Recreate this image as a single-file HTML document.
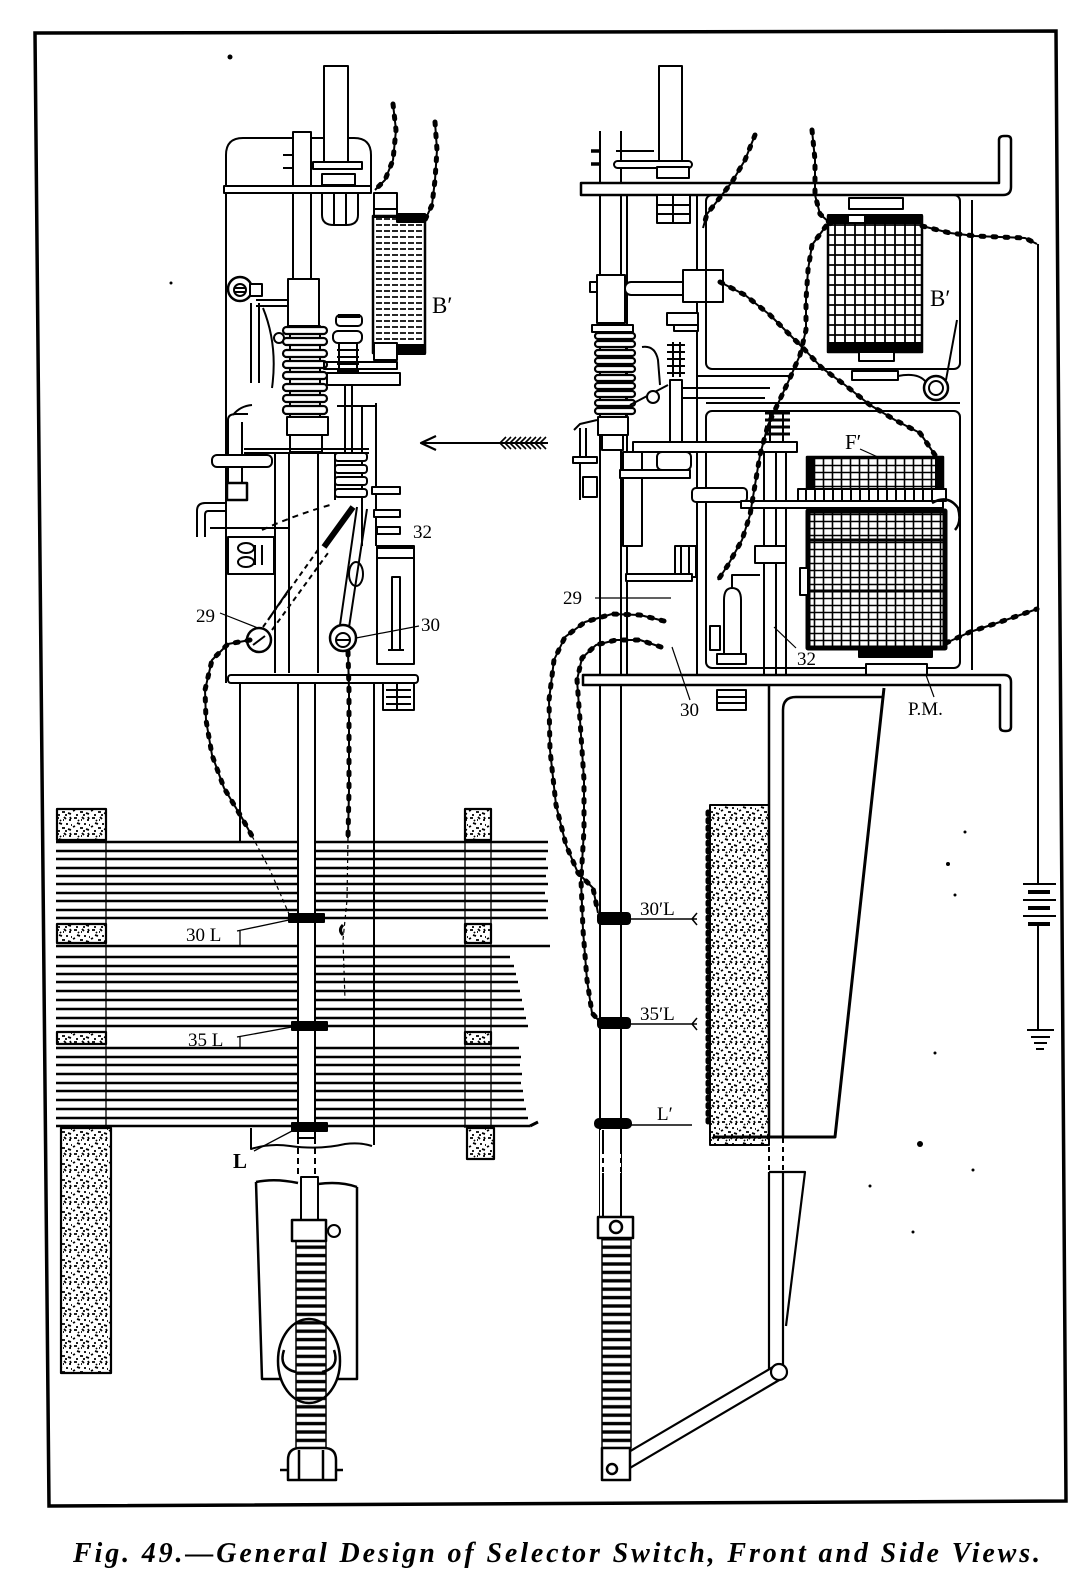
<!DOCTYPE html>
<html><head><meta charset="utf-8"><style>
html,body{margin:0;padding:0;background:#fff;}
svg{display:block;}
.t{font-family:"Liberation Serif",serif;fill:#000;stroke:none;}
</style></head><body>
<svg width="1092" height="1580" viewBox="0 0 1092 1580" xmlns="http://www.w3.org/2000/svg">
<defs>
 <pattern id="stip" width="18" height="16" patternUnits="userSpaceOnUse">
  <path d="M2 2h3M10 1l2 2M15 4h2M5 7l3 1M12 8h2M1 11l2-1M8 12h3M14 13l3 1M9 4h1M17 9h1M4 15h2M16 1l1 2M6 4l1 1M11 15h2" stroke="#000" stroke-width="1.8" fill="none"/>
 </pattern>
 <pattern id="grid" width="10" height="10" patternUnits="userSpaceOnUse">
  <path d="M0 5H10M5 0V10" stroke="#000" stroke-width="1.8"/>
 </pattern>
 <pattern id="grid2" width="9" height="7" patternUnits="userSpaceOnUse">
  <path d="M0 3.5H9M4.5 0V7" stroke="#000" stroke-width="1.6"/>
 </pattern>
 <pattern id="hatch" width="8" height="6" patternUnits="userSpaceOnUse">
  <path d="M0 3H6" stroke="#000" stroke-width="1.7"/>
 </pattern>
 <pattern id="spr" width="10" height="8.4" patternUnits="userSpaceOnUse">
  <path d="M0 4H10" stroke="#000" stroke-width="3.4"/>
 </pattern>
 <path id="wL1" d="M435 122 L437 150 L435 180 L432 205 L425 220"/>
 <path id="wL2" d="M393 104 L396 130 L393 160 L385 180 L375 190"/>
 <path id="wL3" d="M250 640 L228 644 L212 660 L205 690 L206 720 L212 755 L224 788 L242 818 L252 836"/>
 <path id="wL4" d="M348 652 L349 690 L349 740 L349 790 L348 838"/>
 <path id="w1" d="M755 135 L745 160 L732 182 L718 200 L707 214 L703 228"/>
 <path id="w2" d="M812 130 L815 160 L815 195 L820 214 L832 225"/>
 <path id="w3" d="M922 226 L950 233 L975 236 L1000 237 L1025 238 L1037 244"/>
 <path id="w4" d="M720 282 L745 295 L770 315 L790 335 L805 350 L822 368 L845 385 L870 405 L895 420 L920 433 L935 455"/>
 <path id="w5" d="M826 226 L812 245 L808 270 L806 300 L806 330 L800 355 L790 378 L782 395"/>
 <path id="w6" d="M782 395 L768 425 L760 455 L755 485 L750 515 L742 540 L728 565 L718 580"/>
 <path id="w7" d="M946 643 L970 632 L1000 622 L1020 615 L1037 609"/>
 <path id="w8" d="M664 621 L640 615 L612 614 L585 622 L565 637 L554 660 L549 700 L550 750 L556 805 L566 845 L578 873 L593 888 L598 913"/>
 <path id="w9" d="M661 647 L640 640 L616 640 L596 645 L582 658 L577 680 L580 720 L584 780 L584 830 L581 880 L583 930 L587 980 L592 1013 L600 1022"/>
</defs>
<rect width="1092" height="1580" fill="#fff"/>

<path d="M35 33 L1056 31 L1066 1501 L49 1506 Z" fill="none" stroke="#000" stroke-width="3.5"/>
<circle cx="230" cy="57" r="2.5" fill="#000"/>

<g fill="none" stroke="#000" stroke-width="2" stroke-linejoin="round">

<!-- LEFT VIEW -->
<path d="M226 683 V155 Q226 138 243 138 H354 Q371 138 371 155 V186"/>
<rect x="324" y="66" width="24" height="98" fill="#fff"/>
<rect x="293" y="132" width="18" height="147" fill="#fff"/>
<path d="M283 155h10M283 168h10"/>
<rect x="313" y="162" width="49" height="7" fill="#fff"/>
<rect x="322" y="174" width="33" height="11" fill="#fff"/>
<rect x="224" y="186" width="147" height="7" fill="#fff"/>
<path d="M322 193 v22 q0 10 12 10 h12 q12 0 12 -10 v-22 M334 193v32 M346 193v32"/>
<rect x="374" y="193" width="23" height="16" fill="#fff"/>
<rect x="374" y="209" width="23" height="8" fill="#fff"/>
<rect x="373" y="216" width="52" height="137" fill="url(#hatch)" stroke-width="2.5"/>
<rect x="397" y="214" width="28" height="8" fill="#000"/>
<rect x="397" y="345" width="28" height="9" fill="#000"/>
<rect x="374" y="343" width="23" height="17" fill="#fff"/>
<circle cx="240" cy="289" r="12" fill="#fff" stroke-width="2.5"/>
<circle cx="240" cy="290" r="6"/>
<path d="M235 288h10M235 292h10"/>
<rect x="250" y="284" width="12" height="12" fill="#fff"/>
<path d="M256 300 H288 M256 306 H288"/>
<path d="M251 303 V383 M259 303 V383"/>
<path d="M263 308 Q278 345 272 388"/>
<circle cx="279" cy="338" r="5" fill="#fff"/>
<rect x="288" y="279" width="31" height="47" fill="#fff"/>
<rect x="290" y="326" width="30" height="92" fill="#fff"/>
<g fill="#fff" stroke-width="2.2">
<rect x="283" y="327" width="44" height="7" rx="3.5"/>
<rect x="283" y="338" width="44" height="7" rx="3.5"/>
<rect x="283" y="350" width="44" height="7" rx="3.5"/>
<rect x="283" y="361" width="44" height="7" rx="3.5"/>
<rect x="283" y="372" width="44" height="7" rx="3.5"/>
<rect x="283" y="384" width="44" height="7" rx="3.5"/>
<rect x="283" y="395" width="44" height="7" rx="3.5"/>
<rect x="283" y="406" width="44" height="8" rx="3.5"/>
</g>
<rect x="287" y="417" width="41" height="18" fill="#fff"/>
<rect x="290" y="435" width="32" height="17" fill="#fff"/>
<rect x="336" y="315" width="26" height="11" rx="4" fill="#fff"/>
<path d="M338 316 h22" stroke-width="4"/>
<rect x="333" y="331" width="29" height="12" rx="5" fill="#fff"/>
<rect x="339" y="343" width="18" height="40" fill="#fff"/>
<path d="M337 350h22M337 357h22M337 364h22M337 371h22M337 378h22"/>
<path d="M345 383 V453 M352 383 V453"/>
<rect x="324" y="362" width="73" height="7"/>
<rect x="327" y="373" width="73" height="12" fill="#fff"/>
<path d="M362 406 V546 M376 403 V546 M337 406 H376"/>
<path d="M233 415 Q240 406 252 405 M228 483 V420 Q228 414 236 414 H248 M242 483 V422"/>
<rect x="212" y="455" width="60" height="12" rx="5" fill="#fff"/>
<rect x="227" y="483" width="20" height="17" fill="#fff" stroke-width="2.5"/>
<path d="M227 503 H205 Q197 503 197 511 V537 M227 511 H208 Q205 511 205 515 V537"/>
<path d="M210 528 H290"/>
<path d="M244 449 H369 M244 453 H369"/>
<path d="M275 453 V673 M289 453 V673 M318 453 V673 M335 453 V500"/>
<g fill="#fff">
<rect x="335" y="453" width="32" height="8" rx="3"/>
<rect x="335" y="465" width="32" height="8" rx="3"/>
<rect x="335" y="477" width="32" height="8" rx="3"/>
<rect x="335" y="489" width="32" height="8" rx="3"/>
<rect x="372" y="487" width="28" height="7"/>
<rect x="374" y="510" width="26" height="7"/>
<rect x="377" y="527" width="23" height="7"/>
</g>
<rect x="228" y="537" width="46" height="37" fill="#fff"/>
<ellipse cx="246" cy="548" rx="8" ry="5"/>
<ellipse cx="246" cy="562" rx="8" ry="5"/>
<path d="M255 545v20M262 545v20"/>
<path d="M263 627 L320 547 M272 630 L328 553" stroke-dasharray="5 4"/>
<path d="M268 620 L290 588"/>
<path d="M324 547 L353 507" stroke-width="6"/>
<path d="M339 632 L357 507 M348 634 L367 509"/>
<path d="M262 530 Q295 515 330 505" stroke-dasharray="6 5"/>
<ellipse cx="356" cy="574" rx="7" ry="12"/>
<rect x="377" y="546" width="37" height="118" fill="#fff"/>
<rect x="377" y="548" width="37" height="10"/>
<rect x="392" y="577" width="8" height="73"/>
<path d="M388 650 H404"/>
<circle cx="259" cy="640" r="12" fill="#fff" stroke-width="2.5"/>
<path d="M253 645 L265 636"/>
<circle cx="343" cy="638" r="13" fill="#fff" stroke-width="2.5"/>
<circle cx="343" cy="640" r="7"/>
<path d="M337 640h12"/>
<rect x="228" y="675" width="190" height="8" rx="3" fill="#fff"/>
<rect x="383" y="683" width="31" height="27" fill="#fff"/>
<path d="M386 690h25M386 697h25M386 704h25M397 683v27"/>
<path d="M240 683 V842 M374 683 V1145"/>
<path d="M251 1128 V1149 Q270 1143 290 1146 Q320 1150 345 1144 Q360 1142 372 1146"/>

<text class="t" x="432" y="313" font-size="23">B′</text>
<text class="t" x="413" y="538" font-size="19">32</text>
<text class="t" x="196" y="622" font-size="19">29</text>
<text class="t" x="421" y="631" font-size="19">30</text>
<path d="M220 613 L258 628 M419 626 L356 638" stroke-width="1.2"/>

<path d="M421 443 H548" stroke-width="2"/>
<path d="M436 436 L421 443 L436 450" stroke-width="2.2"/>
<path d="M506 437 L500 443 L506 449 M511 437 L505 443 L511 449 M516 437 L510 443 L516 449 M521 437 L515 443 L521 449 M526 437 L520 443 L526 449 M531 437 L525 443 L531 449 M536 437 L530 443 L536 449 M541 437 L535 443 L541 449 M546 437 L540 443 L546 449" stroke-width="1.6"/>

<!-- BANK -->
<g stroke-width="2.5">
<path d="M56 842H548M56 851H548M56 859H546M56 868H548M56 876H546M56 884H548M56 893H545M56 901H548M56 910H546M56 918H548"/>
<path d="M56 946H550M56 957H510M56 966H514M56 974H516M56 982H518M56 991H520M56 1000H522M56 1009H524M56 1018H526M56 1026H528"/>
<path d="M56 1048H519M56 1057H521M56 1065H520M56 1074H522M56 1083H521M56 1091H523M56 1100H524M56 1109H526M56 1118H528M56 1126H530"/>
</g>
<path d="M530 1126 l8 -4" stroke-width="3"/>
<g fill="url(#stip)" stroke-width="2.2">
<rect x="57" y="809" width="49" height="31"/>
<rect x="57" y="924" width="49" height="19"/>
<rect x="57" y="1032" width="49" height="12"/>
<rect x="61" y="1128" width="50" height="245"/>
<rect x="465" y="809" width="26" height="31"/>
<rect x="465" y="924" width="26" height="19"/>
<rect x="465" y="1032" width="26" height="12"/>
<rect x="467" y="1128" width="27" height="31"/>
</g>
<path d="M106 840 V1128 M465 840 V1128 M491 840 V1128" stroke-width="1.3"/>
<rect x="298" y="683" width="17" height="455" fill="#fff"/>
<path d="M298 1138 V1177 M315 1138 V1177" stroke-dasharray="6 4"/>
<rect x="289" y="914" width="35" height="8" fill="#000"/>
<rect x="292" y="1022" width="35" height="8" fill="#000"/>
<rect x="292" y="1123" width="35" height="8" fill="#000"/>
<path d="M237 931 L289 920 M237 1037 L292 1027 M254 1151 L292 1131 M240 931 V946 M240 1037 V1048" stroke-width="1.3"/>
<text class="t" x="186" y="941" font-size="19">30 L</text>
<text class="t" x="188" y="1046" font-size="19">35 L</text>
<text class="t" x="233" y="1168" font-size="21" font-weight="bold">L</text>

<use href="#wL1"/><use href="#wL2"/><use href="#wL3"/><use href="#wL4"/>
<g stroke-width="5" stroke-dasharray="3 9" stroke-linecap="round">
<use href="#wL1"/><use href="#wL2"/><use href="#wL3"/><use href="#wL4"/>
</g>
<path d="M252 836 L270 870 L289 914" stroke-width="1.2" stroke-dasharray="4 3"/>
<path d="M348 838 L347 900 L343 940 L345 1000" stroke-width="1.2" stroke-dasharray="4 3"/>
<path d="M343 925 q-5 5 0 10" stroke-width="3"/>

<path d="M256 1182 Q275 1178 298 1183 M318 1184 Q340 1181 357 1187 M256 1182 L262 1379 H282 M357 1187 V1379 H338" stroke-width="2.5"/>
<rect x="301" y="1177" width="17" height="45" fill="#fff"/>
<rect x="292" y="1220" width="34" height="21" fill="#fff" stroke-width="2.5"/>
<circle cx="334" cy="1231" r="6" fill="#fff"/>
<ellipse cx="309" cy="1361" rx="31" ry="42" fill="#fff" stroke-width="2.5"/>
<path d="M284 1350 Q278 1368 296 1372 M334 1350 Q340 1368 322 1372" stroke-width="2.5"/>
<rect x="296" y="1241" width="30" height="207" fill="url(#spr)" stroke-width="1.5"/>
<path d="M288 1480 V1460 Q288 1448 300 1448 H324 Q336 1448 336 1460 V1480 Z M280 1470 H288 M336 1470 H343 M299 1450 V1480 M323 1450 V1480" fill="#fff" stroke-width="2.5"/>

<!-- RIGHT VIEW -->
<rect x="659" y="66" width="23" height="98" fill="#fff"/>
<path d="M600 131 V1217 M621 131 V1217"/>
<path d="M627 195 V675"/>
<path d="M591 151h9M591 164h9" stroke-width="3.5"/>
<path d="M616 151 H654"/>
<rect x="614" y="161" width="78" height="7" rx="3.5" fill="#fff"/>
<rect x="657" y="167" width="32" height="11" fill="#fff"/>
<path d="M581 183 H999 V140 Q999 136 1004 136 H1007 Q1011 136 1011 140 V187 Q1011 195 1003 195 H581 Z" fill="#fff" stroke-width="2.5"/>
<rect x="657" y="195" width="33" height="28" fill="#fff"/>
<path d="M657 205h33M657 214h33M673 195v28"/>
<path d="M697 195 V675 M972 200 V670"/>
<rect x="706" y="195" width="254" height="174" rx="6"/>
<rect x="706" y="411" width="254" height="257" rx="6"/>
<path d="M698 376 H790 M680 388 H770 M680 398 H765 M706 403 H960"/>
<rect x="849" y="198" width="54" height="11" fill="#fff"/>
<rect x="828" y="216" width="94" height="136" fill="url(#grid)" stroke-width="2.5"/>
<rect x="828" y="215" width="94" height="8" fill="#000"/>
<rect x="828" y="343" width="94" height="9" fill="#000"/>
<rect x="849" y="216" width="15" height="6" fill="#fff" stroke="none"/>
<rect x="859" y="352" width="35" height="9" fill="#fff"/>
<rect x="852" y="371" width="46" height="9" fill="#fff"/>
<circle cx="936" cy="388" r="12" fill="#fff" stroke-width="2.5"/>
<circle cx="936" cy="388" r="7"/>
<path d="M898 376 Q918 372 926 382 M957 320 L946 380"/>
<text class="t" x="930" y="306" font-size="23">B′</text>
<rect x="597" y="275" width="28" height="48" fill="#fff"/>
<rect x="590" y="282" width="7" height="10" fill="#fff"/>
<rect x="625" y="282" width="68" height="13" rx="6" fill="#fff"/>
<rect x="683" y="270" width="40" height="32" fill="#fff"/>
<path d="M706 270v32"/>
<rect x="592" y="325" width="41" height="7" fill="#fff"/>
<rect x="600" y="332" width="26" height="85" fill="#fff"/>
<g fill="#fff" stroke-width="2.2">
<rect x="595" y="333" width="40" height="6" rx="3"/>
<rect x="595" y="341" width="40" height="6" rx="3"/>
<rect x="595" y="350" width="40" height="6" rx="3"/>
<rect x="595" y="358" width="40" height="6" rx="3"/>
<rect x="595" y="366" width="40" height="6" rx="3"/>
<rect x="595" y="375" width="40" height="6" rx="3"/>
<rect x="595" y="383" width="40" height="6" rx="3"/>
<rect x="595" y="391" width="40" height="6" rx="3"/>
<rect x="595" y="400" width="40" height="6" rx="3"/>
<rect x="595" y="408" width="40" height="6" rx="3"/>
</g>
<rect x="598" y="417" width="30" height="18" fill="#fff"/>
<rect x="602" y="435" width="21" height="15" fill="#fff"/>
<path d="M597 420 L580 424 L574 430 M580 428 V500 M586 428 V457"/>
<rect x="573" y="457" width="24" height="6" fill="#fff"/>
<rect x="583" y="477" width="14" height="20" fill="#fff"/>
<path d="M642 347 Q655 345 658 360 L660 385 M630 405 L668 385"/>
<circle cx="653" cy="397" r="6" fill="#fff"/>
<rect x="670" y="380" width="12" height="67" fill="#fff"/>
<rect x="667" y="313" width="31" height="12" fill="#fff"/>
<rect x="674" y="325" width="24" height="6" fill="#fff"/>
<path d="M667 345h18M667 352h18M667 359h18M667 366h18M667 373h18 M673 342v35M680 342v35"/>
<rect x="633" y="442" width="164" height="10" fill="#fff"/>
<path d="M765 413h25M765 420h25M765 427h25M765 434h25" stroke-width="3"/>
<path d="M770 413 V442 M783 413 V442"/>
<rect x="623" y="452" width="19" height="94" fill="#fff"/>
<rect x="620" y="470" width="70" height="8" fill="#fff"/>
<rect x="657" y="452" width="34" height="18" rx="5" fill="#fff"/>
<rect x="692" y="488" width="55" height="14" rx="4" fill="#fff"/>
<path d="M764 452 V675 M776 452 V675 M786 452 V675"/>
<rect x="755" y="546" width="31" height="17" fill="#fff"/>
<rect x="675" y="546" width="21" height="31" fill="#fff"/>
<path d="M681 546v31M689 546v31"/>
<rect x="626" y="574" width="66" height="7" fill="#fff"/>
<path d="M724 655 V600 Q724 588 732 588 Q741 588 741 600 V655 M732 588 V575 H760"/>
<rect x="717" y="654" width="29" height="10" fill="#fff"/>
<rect x="710" y="626" width="10" height="24"/>
<rect x="807" y="457" width="136" height="33" fill="url(#grid2)" stroke-width="2.5"/>
<rect x="807" y="457" width="7" height="33" fill="#000"/>
<rect x="936" y="457" width="7" height="33" fill="#000"/>
<rect x="798" y="489" width="148" height="12" fill="#fff"/>
<path d="M806 489v12M815 489v12M824 489v12M833 489v12M842 489v12M851 489v12M860 489v12M869 489v12M878 489v12M887 489v12M896 489v12M905 489v12M914 489v12M923 489v12M932 489v12"/>
<rect x="741" y="501" width="202" height="7" fill="#fff"/>
<rect x="808" y="511" width="137" height="137" fill="url(#grid2)" stroke-width="5"/>
<path d="M808 540 H945 M808 591 H945" stroke-width="3"/>
<rect x="800" y="568" width="8" height="27" fill="#fff"/>
<rect x="859" y="647" width="73" height="10" fill="#000"/>
<rect x="866" y="664" width="61" height="11" fill="#fff"/>
<path d="M932 503 Q948 494 958 508 Q962 522 955 530" stroke-width="2.5"/>
<text class="t" x="845" y="449" font-size="21">F′</text>
<path d="M860 449 L880 458" stroke-width="1.2"/>
<path d="M583 675 H1004 Q1011 675 1011 682 V727 Q1011 731 1006 731 H1005 Q1000 731 1000 727 V685 H583 Z" fill="#fff" stroke-width="2.5"/>
<rect x="717" y="690" width="29" height="20" fill="#fff"/>
<path d="M717 697h29M717 703h29"/>
<text class="t" x="563" y="604" font-size="19">29</text>
<path d="M595 598 H671" stroke-width="1.2"/>
<text class="t" x="680" y="716" font-size="19">30</text>
<path d="M690 700 L672 647" stroke-width="1.2"/>
<text class="t" x="797" y="665" font-size="19">32</text>
<path d="M796 648 L774 627" stroke-width="1.2"/>
<text class="t" x="908" y="715" font-size="19">P.M.</text>
<path d="M926 675 L934 697" stroke-width="1.2"/>
<path d="M769 685 V1138 M783 1138 V710 Q783 697 796 697 H884" stroke-width="2.5"/>
<path d="M884 688 L835 1137 H713" stroke-width="3"/>
<path d="M769 1138 V1172 M783 1138 V1172" stroke-dasharray="5 4"/>
<rect x="710" y="805" width="59" height="340" fill="url(#stip)" stroke-width="2"/>
<path d="M708 812 V1122" stroke-width="5" stroke-dasharray="2.5 5" stroke-linecap="round"/>
<path d="M769 1172 H805 L786 1326 M769 1172 V1373 M783 1172 V1373" stroke-width="2.2"/>
<polygon points="610,1463 773,1367 781,1379 618,1475" fill="#fff" stroke-width="2.2"/>
<circle cx="779" cy="1372" r="8" fill="#fff" stroke-width="2.2"/>
<rect x="600" y="1130" width="21" height="87" fill="#fff" stroke="none"/>
<path d="M603 1130 V1149 M621 1130 V1149 M603 1173 V1217 M621 1173 V1217"/>
<path d="M603 1149 V1173 M621 1149 V1173" stroke-dasharray="5 4"/>
<rect x="598" y="1217" width="35" height="21" fill="#fff" stroke-width="2.5"/>
<circle cx="616" cy="1227" r="6" stroke-width="2.5"/>
<rect x="602" y="1239" width="29" height="209" fill="url(#spr)" stroke-width="1.5"/>
<rect x="602" y="1448" width="28" height="32" fill="#fff" stroke-width="2.5"/>
<circle cx="612" cy="1469" r="5" fill="#fff" stroke-width="2.5"/>
<rect x="598" y="913" width="32" height="11" rx="3" fill="#000"/>
<rect x="598" y="1018" width="32" height="10" rx="3" fill="#000"/>
<rect x="595" y="1119" width="36" height="9" rx="4" fill="#000"/>
<path d="M630 919 H697 M697 913 L692 919 L697 925 M630 1024 H697 M697 1018 L692 1024 L697 1030 M631 1125 H692" stroke-width="1.5"/>
<text class="t" x="640" y="915" font-size="19">30′L</text>
<text class="t" x="640" y="1020" font-size="19">35′L</text>
<text class="t" x="657" y="1120" font-size="19">L′</text>
<use href="#w1"/><use href="#w2"/><use href="#w3"/><use href="#w4"/><use href="#w5"/><use href="#w6"/><use href="#w7"/><use href="#w8"/><use href="#w9"/>
<g stroke-width="5" stroke-dasharray="3 9" stroke-linecap="round">
<use href="#w1"/><use href="#w2"/><use href="#w3"/><use href="#w4"/><use href="#w5"/><use href="#w6"/><use href="#w7"/><use href="#w8"/><use href="#w9"/>
</g>
<path d="M1038 244 V884 M1038 925 V1030"/>
<path d="M1023 884 H1056 M1023 900 H1056 M1023 916 H1056" stroke-width="2"/>
<path d="M1028 892 H1050 M1028 908 H1050 M1028 924 H1050" stroke-width="4"/>
<path d="M1027 1030 H1054 M1031 1037 H1050 M1034 1043 H1047 M1036 1049 H1044" stroke-width="2"/>
</g>

<g fill="#000">
<circle cx="948" cy="864" r="2"/><circle cx="965" cy="832" r="1.5"/><circle cx="955" cy="895" r="1.5"/>
<circle cx="920" cy="1144" r="3"/><circle cx="870" cy="1186" r="1.5"/><circle cx="913" cy="1232" r="1.5"/>
<circle cx="973" cy="1170" r="1.5"/><circle cx="935" cy="1053" r="1.5"/><circle cx="171" cy="283" r="1.5"/>
</g>

<text class="t" x="73" y="1562" font-size="28" font-style="italic" font-weight="bold" textLength="967" lengthAdjust="spacing">Fig. 49.—General Design of Selector Switch, Front and Side Views.</text>
</svg>
</body></html>
